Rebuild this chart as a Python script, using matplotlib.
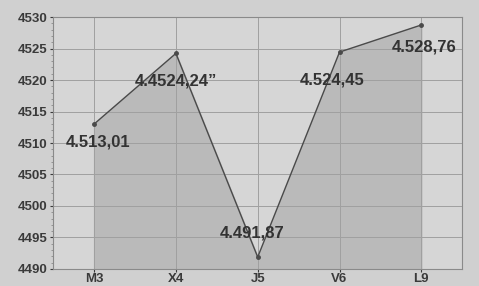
import matplotlib.pyplot as plt
import numpy as np
from matplotlib.ticker import MultipleLocator

categories = ['M3', 'X4', 'J5', 'V6', 'L9']
values = [4513.01, 4524.24, 4491.87, 4524.45, 4528.76]
labels = ['4.513,01', '4.4524,24\u201d', '4.491,87', '4.524,45', '4.528,76']

plt.rcParams['font.family'] = ['Liberation Sans Narrow', 'Liberation Sans', 'DejaVu Sans']

fig = plt.figure(figsize=(4.79, 2.86), dpi=100, facecolor='#d0d0d0')
ax = fig.add_axes([0.111, 0.06, 0.854, 0.88])
ax.set_facecolor('#d6d6d6')

x = np.arange(len(categories))
ax.fill_between(x, values, 4490, color='#bababa', zorder=1)
ax.plot(x, values, color='#4a4a4a', lw=1.0, marker='o', ms=2.5, zorder=3)

offsets = [(3, -13), (0, -20), (-4, 17), (-5, -20), (2, -16)]
for xi, v, lab, off in zip(x, values, labels, offsets):
    ax.annotate(lab, (xi, v), xytext=off, textcoords='offset points',
                ha='center', va='center', fontsize=12, color='#333333',
                fontweight='bold', zorder=4)

ax.set_xlim(-0.5, 4.5)
ax.set_ylim(4490, 4530)
ax.set_xticks(x)
ax.set_xticklabels(categories)
ax.yaxis.set_major_locator(MultipleLocator(5))
ax.yaxis.set_minor_locator(MultipleLocator(1))
ax.grid(True, color='#a0a0a0', lw=0.7, zorder=2)
for s in ax.spines.values():
    s.set_color('#8a8a8a')
    s.set_linewidth(0.8)
ax.tick_params(axis='both', labelsize=9.5, colors='#3a3a3a', length=2, pad=1)
ax.tick_params(axis='y', pad=2)
ax.tick_params(axis='y', which='minor', length=1.5, color='#8a8a8a')
for t in ax.get_xticklabels() + ax.get_yticklabels():
    t.set_fontweight('bold')

fig.savefig('out.png', dpi=100, facecolor=fig.get_facecolor())
